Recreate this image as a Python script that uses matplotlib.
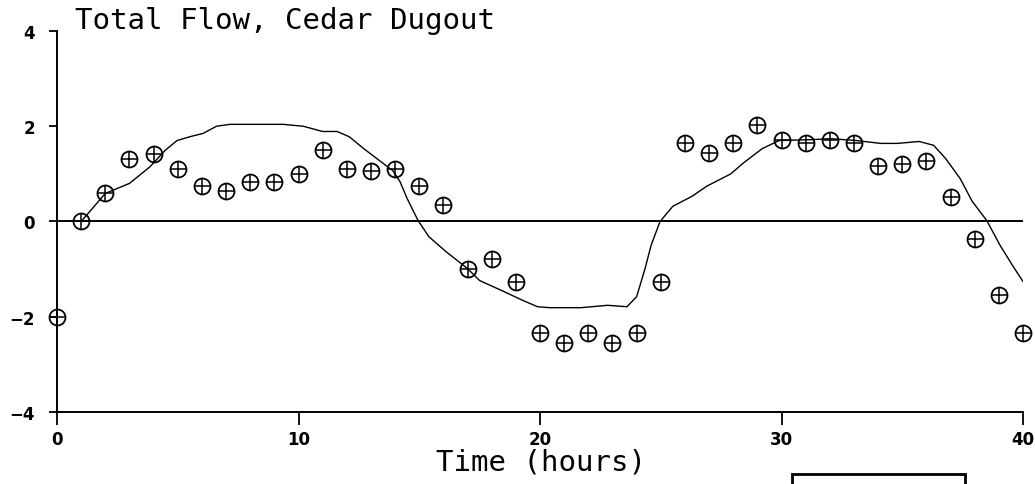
import matplotlib.pyplot as plt
from matplotlib.patches import Rectangle

# hourly measured flow
hours = list(range(0, 41))
flow = [-2.0, 0.0, 0.6, 1.32, 1.41, 1.11, 0.74, 0.63, 0.82, 0.82,
        1.0, 1.51, 1.11, 1.05, 1.11, 0.74, 0.34, -0.99, -0.78, -1.28,
        -2.35, -2.56, -2.35, -2.56, -2.35, -1.28, 1.64, 1.43, 1.64, 2.02,
        1.72, 1.64, 1.72, 1.64, 1.16, 1.2, 1.26, 0.52, -0.36, -1.55,
        -2.35]

# model curve
model_t = [1.0, 2.0, 3.0, 3.85, 4.47, 4.97, 5.5, 6.05, 6.6, 7.16,
           8.0, 9.37, 10.2, 11.0, 11.6, 12.1, 12.7, 13.4, 13.9, 14.2,
           14.5, 14.95, 15.4, 16.1, 17.0, 17.5, 18.5, 19.3, 19.9, 20.4,
           21.7, 22.8, 23.6, 24.0, 24.35, 24.6, 24.97, 25.5, 26.3, 26.9,
           27.9, 28.4, 29.2, 29.9, 31.3, 32.0, 33.1, 34.1, 34.8, 35.7,
           36.3, 36.8, 37.4, 37.9, 38.5, 39.05, 39.6, 40.0]
model_v = [0.0, 0.59, 0.8, 1.15, 1.49, 1.70, 1.78, 1.85, 2.0, 2.04,
           2.04, 2.04, 2.0, 1.89, 1.89, 1.78, 1.53, 1.26, 1.07, 0.84,
           0.48, 0.02, -0.32, -0.63, -0.99, -1.24, -1.47, -1.66, -1.79, -1.81,
           -1.81, -1.76, -1.79, -1.58, -0.99, -0.5, 0.0, 0.32, 0.53, 0.74,
           1.0, 1.22, 1.53, 1.70, 1.72, 1.74, 1.70, 1.64, 1.64, 1.68,
           1.60, 1.32, 0.90, 0.42, 0.02, -0.5, -0.95, -1.26]

xticks = [0, 10, 20, 30, 40]
yticks = [-4, -2, 0, 2, 4]
ytick_labels = ['\u22124', '\u22122', '0', '2', '4']

fig = plt.figure(figsize=(10.35, 4.85), dpi=100)
ax = fig.add_axes([0.0551, 0.1485, 0.9333, 0.7855])

ax.axhline(0, color='black', lw=1.4, zorder=1)
ax.plot(model_t, model_v, color='black', lw=1.0, zorder=2,
        solid_joinstyle='round')
ax.plot(hours, flow, ls='none', marker='o', ms=11.5, mfc='none', mec='black',
        mew=1.3, clip_on=False, zorder=3)
ax.plot(hours, flow, ls='none', marker='+', ms=11.5, mec='black',
        mew=1.1, clip_on=False, zorder=3)

ax.set_xlim(0, 40)
ax.set_ylim(-4, 4)
ax.set_xticks(xticks)
ax.set_yticks(yticks)
ax.set_yticklabels(ytick_labels)
for s in ['top', 'right']:
    ax.spines[s].set_visible(False)
for s in ['left', 'bottom']:
    ax.spines[s].set_linewidth(1.4)
ax.tick_params(axis='x', direction='out', length=9, width=1.3, pad=4,
               labelsize=12)
ax.tick_params(axis='y', direction='out', length=6, width=1.3, pad=10,
               labelsize=12)
for lab in ax.get_xticklabels() + ax.get_yticklabels():
    lab.set_fontweight('bold')

fig.text(0.0725, 0.94, 'Total Flow, Cedar Dugout', family='DejaVu Sans Mono',
         fontsize=21, va='baseline', ha='left')
fig.text(0.523, 0.03, 'Time (hours)', family='DejaVu Sans Mono',
         fontsize=21, va='baseline', ha='center')

fig.patches.append(Rectangle((792 / 1035, -0.05), 173 / 1035, 0.0706,
                             transform=fig.transFigure, fill=False,
                             ec='black', lw=2.0))

fig.savefig('out.png', dpi=100)
